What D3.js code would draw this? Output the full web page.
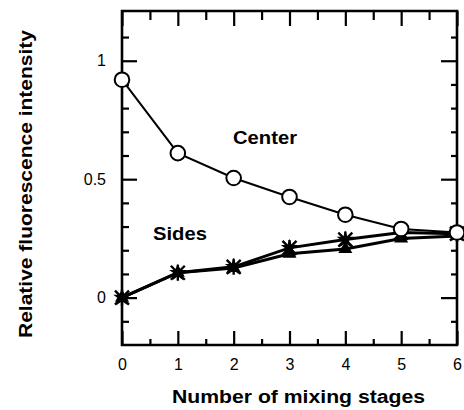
<!DOCTYPE html>
<html>
<head>
<meta charset="utf-8">
<script src="https://cdn.jsdelivr.net/npm/d3@7/dist/d3.min.js"></script>
<style>
  body { margin: 0; background: #fff; }
  svg { display: block; font-family: "Liberation Sans", Arial, sans-serif; }
</style>
</head>
<body>
<svg id="chart" width="464" height="410"></svg>
<script>
// data
const stages = [0, 1, 2, 3, 4, 5, 6];
const centerValues = [0.92, 0.61, 0.505, 0.425, 0.35, 0.29, 0.275];
const sidesStarValues = [0, 0.105, 0.13, 0.21, 0.245, 0.275, 0.27];
const sidesTriangleValues = [0, 0.105, 0.125, 0.185, 0.205, 0.25, 0.26];

const xMajorTicks = [0, 1, 2, 3, 4, 5, 6];
const xMinorTicks = [0.5, 1.5, 2.5, 3.5, 4.5, 5.5];
const yMajorTicks = [0, 0.5, 1];
const yMinorTicks = [-0.1, 0.1, 0.2, 0.3, 0.4, 0.6, 0.7, 0.8, 0.9, 1.1];

const svg = d3.select("#chart");

const plotLeft = 122, plotRight = 457, plotTop = 11, plotBottom = 345;

const x = d3.scaleLinear().domain([0, 6]).range([plotLeft, plotRight]);
const y = d3.scaleLinear().domain([-0.2, 1.21]).range([plotBottom, plotTop]);

// inward ticks on all four sides
function tickAxis(axis, translate, values, size, fmt, padding) {
    const g = svg.append("g")
        .attr("transform", translate)
        .call(axis.tickValues(values).tickSize(-size).tickPadding(padding || 3)
            .tickFormat(fmt || (() => "")));
    g.select(".domain").remove();
    g.selectAll(".tick line").attr("stroke", "#000").attr("stroke-width", 2.2);
    g.selectAll(".tick text")
        .attr("fill", "#000")
        .style("font-size", "16px");
    return g;
}

tickAxis(d3.axisBottom(x), `translate(0,${plotBottom})`, xMajorTicks, 14, d => String(d), 14);
tickAxis(d3.axisBottom(x), `translate(0,${plotBottom})`, xMinorTicks, 6);
tickAxis(d3.axisTop(x), `translate(0,${plotTop})`, xMajorTicks, 15);
tickAxis(d3.axisTop(x), `translate(0,${plotTop})`, xMinorTicks, 9);
tickAxis(d3.axisLeft(y), `translate(${plotLeft},0)`, yMajorTicks, 15, d => String(d), 16);
tickAxis(d3.axisLeft(y), `translate(${plotLeft},0)`, yMinorTicks, 7);
tickAxis(d3.axisRight(y), `translate(${plotRight},0)`, yMajorTicks, 16);
tickAxis(d3.axisRight(y), `translate(${plotRight},0)`, yMinorTicks, 6);

// frame
svg.append("path")
    .attr("d", `M${plotLeft},${plotTop}H${plotRight}V${plotBottom}H${plotLeft}Z`)
    .attr("fill", "none")
    .attr("stroke", "#000")
    .attr("stroke-width", 2.6);

const line = d3.line().x((d, i) => x(stages[i])).y(d => y(d));

// series lines
svg.append("path").datum(sidesTriangleValues)
    .attr("d", line).attr("fill", "none")
    .attr("stroke", "#000").attr("stroke-width", 3);
svg.append("path").datum(sidesStarValues)
    .attr("d", line).attr("fill", "none")
    .attr("stroke", "#000").attr("stroke-width", 3);
svg.append("path").datum(centerValues)
    .attr("d", line).attr("fill", "none")
    .attr("stroke", "#000").attr("stroke-width", 2);

// triangle markers
svg.append("g").selectAll("path")
    .data(sidesTriangleValues)
    .join("path")
    .attr("transform", (d, i) => `translate(${x(stages[i])},${y(d)})`)
    .attr("d", d3.symbol().type(d3.symbolTriangle).size(85))
    .attr("fill", "#000");

// star markers: filled star plus x spikes
const stars = svg.append("g").selectAll("g")
    .data(sidesStarValues)
    .join("g")
    .attr("transform", (d, i) => `translate(${x(stages[i])},${y(d)})`);
stars.append("path")
    .attr("d", d3.symbol().type(d3.symbolStar).size(95))
    .attr("fill", "#000");
stars.append("path")
    .attr("d", "M-7,-7L7,7M7,-7L-7,7M0,-8V8")
    .attr("stroke", "#000")
    .attr("stroke-width", 2.4);

// circle markers
svg.append("g").selectAll("circle")
    .data(centerValues)
    .join("circle")
    .attr("cx", (d, i) => x(stages[i]))
    .attr("cy", d => y(d))
    .attr("r", 7.3)
    .attr("fill", "#fff")
    .attr("stroke", "#000")
    .attr("stroke-width", 2);

// series labels
svg.append("text")
    .attr("x", 233).attr("y", 144)
    .attr("textLength", 64).attr("lengthAdjust", "spacingAndGlyphs")
    .style("font-size", "18px").style("font-weight", "bold")
    .text("Center");
svg.append("text")
    .attr("x", 153).attr("y", 240)
    .attr("textLength", 54).attr("lengthAdjust", "spacingAndGlyphs")
    .style("font-size", "18px").style("font-weight", "bold")
    .text("Sides");

// axis titles
svg.append("text")
    .attr("x", 172).attr("y", 403)
    .attr("textLength", 253).attr("lengthAdjust", "spacingAndGlyphs")
    .style("font-size", "18px").style("font-weight", "bold")
    .text("Number of mixing stages");
svg.append("text")
    .attr("transform", "translate(32,338) rotate(-90)")
    .attr("textLength", 308).attr("lengthAdjust", "spacingAndGlyphs")
    .style("font-size", "18px").style("font-weight", "bold")
    .text("Relative fluorescence intensity");
</script>
</body>
</html>
